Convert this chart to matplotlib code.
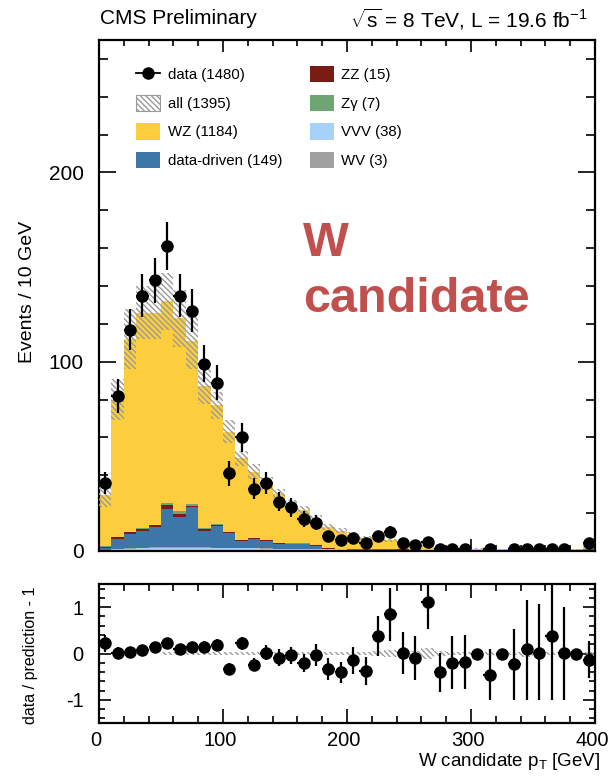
import numpy as np
import matplotlib
matplotlib.use("Agg")
import matplotlib.pyplot as plt
from matplotlib.patches import Patch
from matplotlib.lines import Line2D
from matplotlib.ticker import MultipleLocator, FixedLocator
from matplotlib.transforms import ScaledTranslation

plt.rcParams['font.family'] = ['Liberation Sans', 'DejaVu Sans']
plt.rcParams['mathtext.fontset'] = 'custom'
plt.rcParams['mathtext.rm'] = 'Liberation Sans'
plt.rcParams['mathtext.it'] = 'Liberation Sans:italic'
plt.rcParams['hatch.linewidth'] = 1.0
plt.rcParams['hatch.color'] = '#9a9a9a'

# ---------------- data ----------------
bin_edges = list(range(0, 410, 10))
bin_centers = [e + 5 for e in bin_edges[:-1]]

data = [36, 82, 117, 135, 143, 161, 135, 127, 99, 89,
        41, 60, 33, 36, 26, 23, 17, 15, 8, 6,
        7, 4, 8, 10, 4, 3, 5, 1, 1, 1,
        0, 1, 0, 1, 1, 1, 1, 1, 0, 4]
data_err = [6.0, 9.1, 10.8, 11.6, 12.0, 12.7, 11.6, 11.3, 9.9, 9.4,
            6.4, 7.7, 5.7, 6.0, 5.1, 4.8, 4.1, 3.9, 2.8, 2.4,
            2.6, 2.0, 2.8, 3.2, 2.0, 1.7, 2.2, 1.0, 1.0, 1.0,
            0.0, 1.0, 0.0, 1.0, 1.0, 1.0, 1.0, 1.0, 0.0, 2.0]

vvv = [0.3, 1.0, 1.3, 1.5, 1.6, 1.8, 1.8, 1.8, 1.7, 1.6,
       1.6, 1.5, 1.4, 1.3, 1.2, 1.1, 1.0, 0.9, 0.8, 0.8,
       0.7, 0.6, 0.6, 0.5, 0.5, 0.4, 0.4, 0.4, 0.3, 0.3,
       0.3, 0.3, 0.2, 0.2, 0.2, 0.2, 0.2, 0.2, 0.2, 0.5]
wv = [0.0, 0.1, 0.2, 0.3, 0.3, 0.3, 0.3, 0.3, 0.2, 0.2,
      0.2, 0.1, 0.1, 0.1, 0.1, 0.1, 0.0, 0.0, 0.0, 0.0,
      0.0, 0.0, 0.0, 0.0, 0.0, 0.0, 0.0, 0.0, 0.0, 0.0,
      0.0, 0.0, 0.0, 0.0, 0.0, 0.0, 0.0, 0.0, 0.0, 0.0]
datadriven = [1.5, 5.2, 7.3, 8.7, 10.7, 19.9, 15.7, 21.0, 8.9, 11.3,
              7.7, 3.8, 4.8, 4.0, 2.5, 2.4, 2.7, 1.6, 0.4, 0.3,
              0.4, 0.3, 0.3, 0.3, 0.2, 0.2, 0.2, 0.1, 0.1, 0.1,
              0.1, 0.1, 0.1, 0.1, 0.1, 0.1, 0.1, 0.1, 0.1, 0.3]
zz = [0.3, 1.0, 1.1, 0.9, 1.0, 2.5, 1.7, 0.7, 0.9, 0.7,
      0.5, 0.4, 0.5, 0.3, 0.3, 0.3, 0.2, 0.5, 0.2, 0.1,
      0.1, 0.1, 0.1, 0.1, 0.1, 0.05, 0.05, 0.05, 0.05, 0.05,
      0.0, 0.0, 0.0, 0.0, 0.0, 0.0, 0.0, 0.0, 0.0, 0.05]
zgamma = [0.5, 0.2, 0.3, 0.6, 0.3, 1.0, 1.4, 1.0, 0.3, 0.3,
          0.3, 0.2, 0.2, 0.1, 0.1, 0.1, 0.1, 0.1, 0.05, 0.05,
          0.05, 0.0, 0.0, 0.0, 0.0, 0.0, 0.0, 0.0, 0.0, 0.0,
          0.0, 0.0, 0.0, 0.0, 0.0, 0.0, 0.0, 0.0, 0.0, 0.0]
wz = [26.9, 72.5, 101.8, 114.0, 112.1, 106.5, 102.1, 86.2, 75.0, 62.9,
      52.7, 43.0, 35.0, 29.7, 25.8, 20.5, 17.5, 13.9, 11.05, 9.45,
      7.45, 6.0, 5.2, 4.7, 3.7, 2.95, 1.95, 1.25, 0.95, 0.85,
      0.8, 1.4, 0.7, 1.0, 0.6, 0.7, 0.45, 0.7, 0.5, 3.95]
mc_unc = [6, 11, 16, 14, 14, 15, 15, 15, 9.5, 7,
          6, 4, 4, 3.5, 3, 2.5, 2.2, 2, 1.6, 1.4,
          1.2, 1.0, 1.0, 0.9, 0.8, 0.7, 0.6, 0.4, 0.3, 0.3,
          0.3, 0.3, 0.3, 0.3, 0.3, 0.3, 0.3, 0.3, 0.3, 0.6]

ratio = [0.22, 0.02, 0.04, 0.07, 0.14, 0.22, 0.09, 0.15, 0.15, 0.19,
         -0.34, 0.22, -0.24, 0.02, -0.09, -0.04, -0.20, -0.03, -0.33, -0.41,
         -0.15, -0.37, 0.38, 0.85, 0.01, -0.10, 1.12, -0.41, -0.20, -0.19,
         0.0, -0.47, 0.0, -0.23, 0.09, 0.01, 0.38, 0.01, 0.0, -0.13]
ratio_err_hi = [0.18, 0.11, 0.10, 0.09, 0.09, 0.09, 0.09, 0.10, 0.11, 0.12,
                0.13, 0.14, 0.14, 0.16, 0.19, 0.19, 0.20, 0.23, 0.24, 0.22,
                0.30, 0.30, 0.43, 0.57, 0.45, 0.47, 0.60, 0.42, 0.57, 0.58,
                0.0, 0.56, 0.0, 0.76, 1.07, 1.05, 1.20, 1.00, 0.0, 0.40]
ratio_err_lo = [0.18, 0.11, 0.10, 0.09, 0.09, 0.09, 0.09, 0.10, 0.11, 0.12,
                0.13, 0.14, 0.14, 0.16, 0.19, 0.19, 0.20, 0.23, 0.24, 0.22,
                0.30, 0.30, 0.43, 0.57, 0.45, 0.47, 0.60, 0.42, 0.57, 0.58,
                0.0, 0.53, 0.0, 0.77, 1.09, 1.01, 1.38, 1.01, 0.0, 0.40]
ratio_band = [0.0, 0.0, 0.0, 0.0, 0.0, 0.03, 0.03, 0.03, 0.03, 0.03,
              0.03, 0.03, 0.03, 0.03, 0.03, 0.03, 0.03, 0.03, 0.03, 0.03,
              0.03, 0.03, 0.05, 0.08, 0.04, 0.05, 0.12, 0.06, 0.03, 0.03,
              0.03, 0.03, 0.03, 0.04, 0.08, 0.03, 0.03, 0.03, 0.03, 0.03]

legend_labels = ["data (1480)", "all (1395)", "WZ (1184)", "data-driven (149)",
                 "ZZ (15)", "Zγ (7)", "VVV (38)", "WV (3)"]

# ---------------- style ----------------
c_wz = '#FCCD3D'
c_dd = '#3D77A8'
c_zz = '#7B1C14'
c_zg = '#6FA572'
c_vvv = '#A6D2FA'
c_wv = '#A0A0A0'
c_hatch = '#9a9a9a'
hatch = '\\\\\\\\\\\\'

W, H = 608, 778
fig = plt.figure(figsize=(W / 100, H / 100), dpi=100)

def fx(px):
    return px / W

def fy(py):
    return 1 - py / H

ax = fig.add_axes([fx(99), fy(551), (595 - 99) / W, (551 - 40) / H])
rax = fig.add_axes([fx(99), fy(723), (595 - 99) / W, (723 - 584) / H])

edges = np.array(bin_edges, dtype=float)
centers = np.array(bin_centers, dtype=float)

# stacked MC
bottom = np.zeros(len(centers))
for vals, col in [(vvv, c_vvv), (wv, c_wv), (datadriven, c_dd), (zz, c_zz),
                  (zgamma, c_zg), (wz, c_wz)]:
    v = np.array(vals)
    ax.stairs(bottom + v, edges, baseline=bottom.copy(), fill=True,
              color=col, linewidth=0, zorder=2)
    bottom = bottom + v
total = bottom
unc = np.array(mc_unc)
ax.stairs(total + unc, edges, baseline=total - unc, fill=True,
          facecolor='none', edgecolor=c_hatch, hatch=hatch, linewidth=0, zorder=3)

d = np.array(data, dtype=float)
de = np.array(data_err)
m = d > 0
ax.errorbar(centers[m], d[m], yerr=de[m], xerr=5, fmt='o', color='k',
            ms=8, elinewidth=1.6, capsize=0, zorder=5)

ax.set_xlim(0, 400)
ax.set_ylim(0, 270)
ax.xaxis.set_major_locator(MultipleLocator(100))
ax.xaxis.set_minor_locator(MultipleLocator(20))
ax.yaxis.set_major_locator(FixedLocator([0, 100, 200]))
ax.yaxis.set_minor_locator(MultipleLocator(20))
ax.tick_params(which='both', direction='in', top=True, right=True,
               labelbottom=False, labelsize=15, width=1.2, color='k')
ax.tick_params(axis='y', which='major', length=12.5, pad=11)
ax.tick_params(axis='y', which='minor', length=6.5)
ax.tick_params(axis='x', which='major', length=8.5)
ax.tick_params(axis='x', which='minor', length=4)
for s in ax.spines.values():
    s.set_linewidth(1.6)
fig.text(fx(28), fy(292), "Events / 10 GeV", rotation=90, ha='center',
         va='center', fontsize=14)

# legend
handles = [
    Line2D([], [], color='k', marker='o', ms=8, lw=1.3),
    Patch(facecolor='white', edgecolor=c_hatch, hatch=hatch, linewidth=0.8),
    Patch(facecolor=c_wz, edgecolor='none'),
    Patch(facecolor=c_dd, edgecolor='none'),
    Patch(facecolor=c_zz, edgecolor='none'),
    Patch(facecolor=c_zg, edgecolor='none'),
    Patch(facecolor=c_vvv, edgecolor='none'),
    Patch(facecolor=c_wv, edgecolor='none'),
]
leg = ax.legend(handles, legend_labels, ncol=2, frameon=False, fontsize=10.8,
                loc='upper left', bbox_to_anchor=((136 - 99) / 496, 1 - (66 - 40) / 511),
                borderpad=0, borderaxespad=0, handlelength=1.6, handleheight=1.3,
                handletextpad=0.5, labelspacing=0.82, columnspacing=1.85)

# big red text
fig.text(fx(303), fy(243), "W", color='#C0504D', fontsize=35, fontweight='bold',
         ha='left', va='center')
fig.text(fx(303), fy(300), "candidate", color='#C0504D', fontsize=35, fontweight='bold',
         ha='left', va='center')

# header
fig.text(fx(100), fy(19), "CMS Preliminary", fontsize=15, ha='left', va='center')
fig.text(fx(588), fy(19), r"$\sqrt{\mathregular{s}}$ = 8 TeV, L = 19.6 fb$^{\mathregular{-1}}$",
         fontsize=15, ha='right', va='center')

# ratio panel
rb = np.array(ratio_band)
rax.stairs(rb, edges, baseline=-rb, fill=True, facecolor='none', edgecolor=c_hatch,
           hatch=hatch, linewidth=0, zorder=2)
r = np.array(ratio)
rax.errorbar(centers, r, yerr=[np.array(ratio_err_lo), np.array(ratio_err_hi)], xerr=5,
             fmt='o', color='k', ms=8, elinewidth=1.6, capsize=0, zorder=5)
rax.set_xlim(0, 400)
rax.set_ylim(-1.5, 1.5)
rax.xaxis.set_major_locator(MultipleLocator(100))
rax.xaxis.set_minor_locator(MultipleLocator(20))
rax.yaxis.set_major_locator(FixedLocator([-1, 0, 1]))
rax.yaxis.set_minor_locator(MultipleLocator(0.2))
rax.set_yticklabels(['-1', '0', '1'])
rax.tick_params(which='both', direction='in', top=True, right=True, labelsize=14.5,
                width=1.2)
rax.tick_params(axis='y', which='major', length=8.5, pad=11)
rax.tick_params(axis='y', which='minor', length=4)
rax.tick_params(axis='x', which='major', length=10, pad=6)
rax.tick_params(axis='x', which='minor', length=5)
for s in rax.spines.values():
    s.set_linewidth(1.6)
shift = ScaledTranslation(-3 / 100, 0, fig.dpi_scale_trans)
for lab in rax.get_xticklabels():
    lab.set_transform(lab.get_transform() + shift)
fig.text(fx(31), fy(655), "data / prediction - 1", rotation=90, ha='center',
         va='center', fontsize=11.5)
fig.text(fx(600), fy(762), r"W candidate p$_{\mathregular{T}}$ [GeV]", ha='right',
         va='center', fontsize=13.5)

fig.savefig("out.png", dpi=100)
